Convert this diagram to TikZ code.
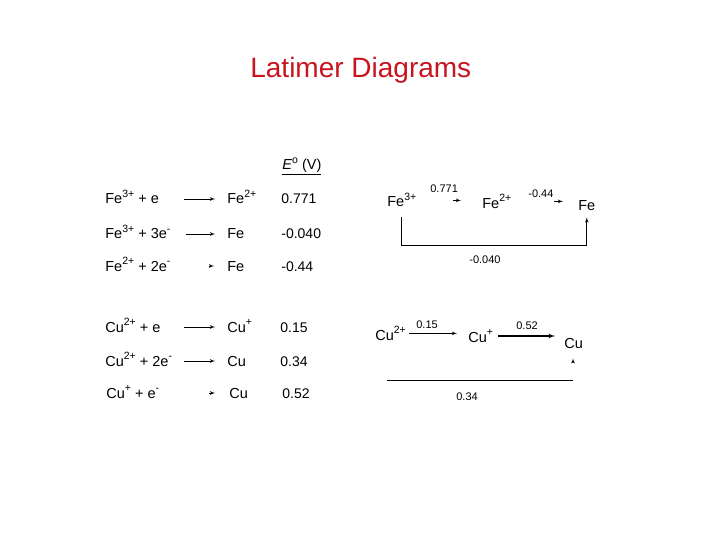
\documentclass[tikz,border=0pt]{standalone}
\usepackage{fontspec}
\setmainfont{Liberation Sans}
\usetikzlibrary{arrows,calc,positioning}
\definecolor{titlered}{RGB}{200,20,30}
\newcommand{\chg}[1]{\raisebox{0.42em}{\fontsize{10.5}{11}\selectfont #1}}
\tikzset{
latimer/.style={x=1pt,y=-1pt,>=latex',line width=0.7pt},
chem/.style={anchor=base west,inner sep=0pt,font=\fontsize{14.5}{17}\selectfont},
pot/.style={anchor=base west,inner sep=0pt,font=\fontsize{14}{16}\selectfont},
small/.style={anchor=base west,inner sep=0pt,font=\fontsize{11}{13}\selectfont},
heading/.style={anchor=base west,inner sep=0pt,font=\fontsize{28}{32}\selectfont,text=titlered},
rxn/.style={->,shorten >=#1},
rxn/.default={11pt},
}

\begin{document}
\begin{tikzpicture}[latimer]
    \useasboundingbox (0,0) rectangle (720,540);

    \node[heading] (title) at (250,78) {Latimer Diagrams};
    \node[chem] (ehead) at (282,170) {\underline{\textit{E}\chg{o} (V)}};

    % iron half reactions
    \node[chem] (fe1l) at (105,204) {Fe\chg{3+} + e};
    \node[chem] (fe1r) at (227,204) {Fe\chg{2+}};
    \node[pot]  (fe1v) at (281,204) {0.771};
    \node[chem] (fe2l) at (105,239) {Fe\chg{3+} + 3e\chg{-}};
    \node[chem] (fe2r) at (227,239) {Fe};
    \node[pot]  (fe2v) at (281,239) {-0.040};
    \node[chem] (fe3l) at (105,271) {Fe\chg{2+} + 2e\chg{-}};
    \node[chem] (fe3r) at (227,271) {Fe};
    \node[pot]  (fe3v) at (281,271) {-0.44};
    \coordinate (fe1t) at (184,199);
    \coordinate (fe2t) at (186,234);
    \coordinate (fe3t) at (209,266);
    \draw[rxn=12pt] (fe1t) -- (fe1t -| fe1r.west);
    \draw[rxn=12pt] (fe2t) -- (fe2t -| fe2r.west);
    \draw[rxn=13pt] (fe3t) -- (fe3t -| fe3r.west);

    % copper half reactions
    \node[chem] (cu1l) at (105,332) {Cu\chg{2+} + e};
    \node[chem] (cu1r) at (227,332) {Cu\chg{+}};
    \node[pot]  (cu1v) at (280,332) {0.15};
    \node[chem] (cu2l) at (105,366) {Cu\chg{2+} + 2e\chg{-}};
    \node[chem] (cu2r) at (227,366) {Cu};
    \node[pot]  (cu2v) at (280,366) {0.34};
    \node[chem] (cu3l) at (106,398) {Cu\chg{+} + e\chg{-}};
    \node[chem] (cu3r) at (229,398) {Cu};
    \node[pot]  (cu3v) at (282,398) {0.52};
    \coordinate (cu1t) at (184,327);
    \coordinate (cu2t) at (184,361);
    \coordinate (cu3t) at (209,393);
    \draw[rxn=12pt] (cu1t) -- (cu1t -| cu1r.west);
    \draw[rxn=12pt] (cu2t) -- (cu2t -| cu2r.west);
    \draw[rxn=14pt] (cu3t) -- (cu3t -| cu3r.west);

    % iron diagram
    \node[chem] (fe3d) at (387,207) {Fe\chg{3+}};
    \node[chem] (fe2d) at (482,208) {Fe\chg{2+}};
    \node[chem] (fed)  at (578,211) {Fe};
    \node[small] (fea) at (430,193) {0.771};
    \node[small] (feb) at (528,198) {-0.44};
    \node[small] (fec) at (469,263) {-0.040};
    \draw[->,shorten <=36pt,shorten >=21pt] (fe3d.east) -- (fe3d.east -| fe2d.west);
    \draw[->,shorten <=42pt,shorten >=15pt] (fe2d.east) -- (fe2d.east -| fed.west);
    \coordinate (febot) at (0,245);
    \draw[->,shorten <=10pt,shorten >=6pt] (fe3d.south) -- (fe3d.south |- febot)
        -- (fed.south |- febot) -- (fed.south);

    % copper diagram
    \node[chem] (cu2d) at (375,340) {Cu\chg{2+}};
    \node[chem] (cu1d) at (468,342) {Cu\chg{+}};
    \node[chem] (cud)  at (564,348) {Cu};
    \node[small] (cua) at (416,328) {0.15};
    \node[small] (cub) at (516,329) {0.52};
    \node[small] (cuc) at (456,400) {0.34};
    \draw[->,shorten <=3pt,shorten >=11pt] (cu2d.east) -- (cu2d.east -| cu1d.west);
    \draw[->,line width=1.2pt,shorten <=5pt,shorten >=9pt] (cu1d.east) -- (cu1d.east -| cud.west);
    \coordinate (cuL) at (387,380);
    \coordinate (cuR) at (573,380);
    \draw (cuL) -- (cuR);
    \draw[->,shorten <=18pt,shorten >=10pt] (cuR) -- (cuR |- cud.south);
\end{tikzpicture}
\end{document}
